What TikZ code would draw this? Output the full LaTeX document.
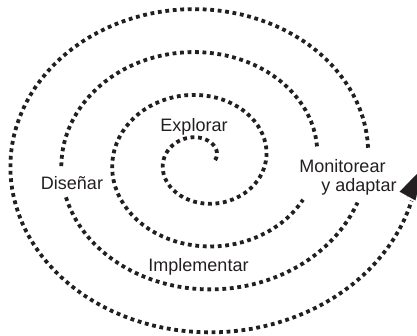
\documentclass[tikz,border=0pt]{standalone}
\usepackage{fontspec}
\setmainfont{Liberation Sans}
\usetikzlibrary{arrows.meta}
\definecolor{ink}{RGB}{35,31,32}
\tikzset{every picture/.style={x=1pt,y=-1pt}}
\tikzset{spiral/.style={ink,line width=3.8pt,dash pattern=on 3.8pt off 3.7pt}}
\tikzset{tag/.style={text=ink,font=\fontsize{18}{20}\selectfont,inner sep=0pt,anchor=base}}
\tikzset{head/.style={ink,line width=0.1pt,-{Triangle[length=32pt,width=18pt]}}}
\tikzset{declare function={sx(\t)=202+(13+\t/180*25.5)*cos(\t);
  sy(\t)=160-(11+\t/180*21.5)*sin(\t);}}

\begin{document}
\begin{tikzpicture}
\useasboundingbox (0,0) rectangle (417,336);

\draw [spiral] plot [domain=0:695,samples=150,variable=\t] ({sx(\t)},{sy(\t)});
\draw [spiral] plot [domain=728:903,samples=50,variable=\t] ({sx(\t)},{sy(\t)});
\draw [spiral] plot [domain=918:1062,samples=50,variable=\t] ({sx(\t)},{sy(\t)});
\draw [spiral] plot [domain=1085:1427,samples=110,variable=\t] ({sx(\t)},{sy(\t)});

\coordinate (tail) at (407,197);
\coordinate (tip) at (423,168);
\draw [head] (tail) -- (tip);

\node [tag] (explorar) at (194,132) {Explorar};
\node [tag] (disenar) at (72,190) {Diseñar};
\node [tag] (implementar) at (198.5,272) {Implementar};
\node [tag] (monitorear) at (342.5,173) {Monitorear};
\node [tag] (adaptar) at (359,192) {y adaptar};
\end{tikzpicture}
\end{document}
